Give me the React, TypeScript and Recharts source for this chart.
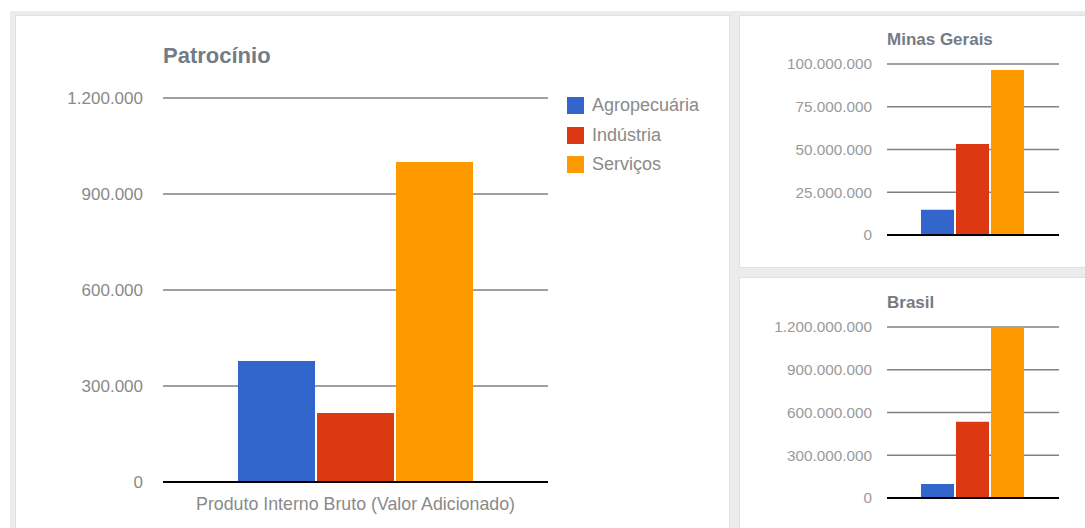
import React from "react";
import { BarChart, Bar, XAxis, YAxis, CartesianGrid, Legend } from "recharts";

const categories = ["Produto Interno Bruto (Valor Adicionado)"];
const seriesNames = ["Agropecuária", "Indústria", "Serviços"];
const seriesColors = ["#3366cc", "#dc3912", "#ff9900"];

const patrocinioValues = [378000, 216000, 1000000];
const minasValues = [14800000, 53200000, 96500000];
const brasilValues = [98000000, 535000000, 1198000000];

const patrocinioTicks = [0, 300000, 600000, 900000, 1200000];
const minasTicks = [0, 25000000, 50000000, 75000000, 100000000];
const brasilTicks = [0, 300000000, 600000000, 900000000, 1200000000];

const mainTitle = "Patrocínio";
const minasTitle = "Minas Gerais";
const brasilTitle = "Brasil";

const buildRows = (values: number[]) =>
  categories.map((c) => {
    const row: Record<string, any> = { name: c };
    seriesNames.forEach((s, i) => {
      row[s] = values[i];
    });
    return row;
  });

const fmt = (v: number) => String(v).replace(/\B(?=(\d{3})+(?!\d))/g, ".");

const FONT = "'Liberation Sans', Arial, sans-serif";
const TEXT_GRAY = "#8a8a8a";
const TITLE_COLOR = "#737b86";
const GRID = "#808080";

const renderLegend = (props: any) => {
  const payload = props.payload || [];
  return (
    <div style={{ fontFamily: FONT }}>
      {payload.map((p: any, i: number) => (
        <div key={i} style={{ display: "flex", alignItems: "center", height: 29.5 }}>
          <div style={{ width: 17, height: 17, background: p.color, marginRight: 8 }} />
          <span style={{ fontSize: 18, color: TEXT_GRAY }}>{p.value}</span>
        </div>
      ))}
    </div>
  );
};

const SmallChart = ({
  values,
  ticks,
  top,
  height,
  marginTop,
  marginBottom,
}: {
  values: number[];
  ticks: number[];
  top: number;
  height: number;
  marginTop: number;
  marginBottom: number;
}) => (
  <div style={{ position: "absolute", left: 740, top }}>
    <BarChart
      width={345}
      height={height}
      data={buildRows(values)}
      margin={{ top: marginTop, right: 26, bottom: marginBottom, left: 10 }}
      barCategoryGap={34}
      barGap={2}
    >
      <CartesianGrid vertical={false} stroke={GRID} strokeWidth={1.5} />
      <XAxis
        dataKey="name"
        tick={false}
        tickLine={false}
        height={1}
        axisLine={{ stroke: "#000", strokeWidth: 2 }}
      />
      <YAxis
        width={137}
        domain={[0, ticks[ticks.length - 1]]}
        ticks={ticks}
        tickFormatter={fmt}
        axisLine={false}
        tickLine={false}
        tickSize={0}
        tickMargin={15}
        tick={{ fill: "#9a9a9a", fontSize: 15.3 }}
        interval={0}
      />
      {seriesNames.map((s, i) => (
        <Bar key={s} dataKey={s} fill={seriesColors[i]} isAnimationActive={false} />
      ))}
    </BarChart>
  </div>
);

export default function App() {
  return (
    <div
      style={{
        position: "absolute",
        left: 0,
        top: 0,
        width: 1085,
        height: 528,
        overflow: "hidden",
        background: "#fff",
        fontFamily: FONT,
      }}
    >
      <div style={{ position: "absolute", left: 10, top: 11, width: 1100, height: 540, background: "#ececec" }} />
      <div
        style={{
          position: "absolute",
          left: 15,
          top: 15,
          width: 715,
          height: 530,
          background: "#fff",
          border: "1px solid #e0e0e0",
          boxSizing: "border-box",
        }}
      />
      <div
        style={{
          position: "absolute",
          left: 739,
          top: 15,
          width: 360,
          height: 253,
          background: "#fff",
          border: "1px solid #e0e0e0",
          boxSizing: "border-box",
        }}
      />
      <div
        style={{
          position: "absolute",
          left: 739,
          top: 277,
          width: 360,
          height: 270,
          background: "#fff",
          border: "1px solid #e0e0e0",
          boxSizing: "border-box",
        }}
      />

      <div style={{ position: "absolute", left: 16, top: 16 }}>
        <BarChart
          width={713}
          height={512}
          data={buildRows(patrocinioValues)}
          margin={{ top: 82, right: 181, bottom: 6, left: 48 }}
          barCategoryGap={75}
          barGap={2}
        >
          <CartesianGrid vertical={false} stroke={GRID} strokeWidth={1.5} />
          <XAxis
            dataKey="name"
            tickLine={false}
            tickSize={0}
            tickMargin={15}
            height={40}
            axisLine={{ stroke: "#000", strokeWidth: 2 }}
            tick={{ fill: TEXT_GRAY, fontSize: 17.8 }}
          />
          <YAxis
            width={99}
            domain={[0, 1200000]}
            ticks={patrocinioTicks}
            tickFormatter={fmt}
            axisLine={false}
            tickLine={false}
            tickSize={0}
            tickMargin={20}
            tick={{ fill: TEXT_GRAY, fontSize: 17 }}
            interval={0}
          />
          <Legend
            layout="vertical"
            align="center"
            verticalAlign="middle"
            wrapperStyle={{ left: 551, top: 75, width: 160 }}
            content={renderLegend}
          />
          {seriesNames.map((s, i) => (
            <Bar key={s} dataKey={s} fill={seriesColors[i]} isAnimationActive={false} />
          ))}
        </BarChart>
      </div>
      <div
        style={{
          position: "absolute",
          left: 163,
          top: 45,
          fontSize: 22,
          lineHeight: "22px",
          fontWeight: "bold",
          color: TITLE_COLOR,
        }}
      >
        {mainTitle}
      </div>

      <SmallChart values={minasValues} ticks={minasTicks} top={16} height={251} marginTop={48} marginBottom={31} />
      <div
        style={{
          position: "absolute",
          left: 887,
          top: 31,
          fontSize: 17,
          lineHeight: "17px",
          fontWeight: "bold",
          color: TITLE_COLOR,
        }}
      >
        {minasTitle}
      </div>

      <SmallChart values={brasilValues} ticks={brasilTicks} top={278} height={250} marginTop={49} marginBottom={29} />
      <div
        style={{
          position: "absolute",
          left: 887,
          top: 294,
          fontSize: 17,
          lineHeight: "17px",
          fontWeight: "bold",
          color: TITLE_COLOR,
        }}
      >
        {brasilTitle}
      </div>
    </div>
  );
}
